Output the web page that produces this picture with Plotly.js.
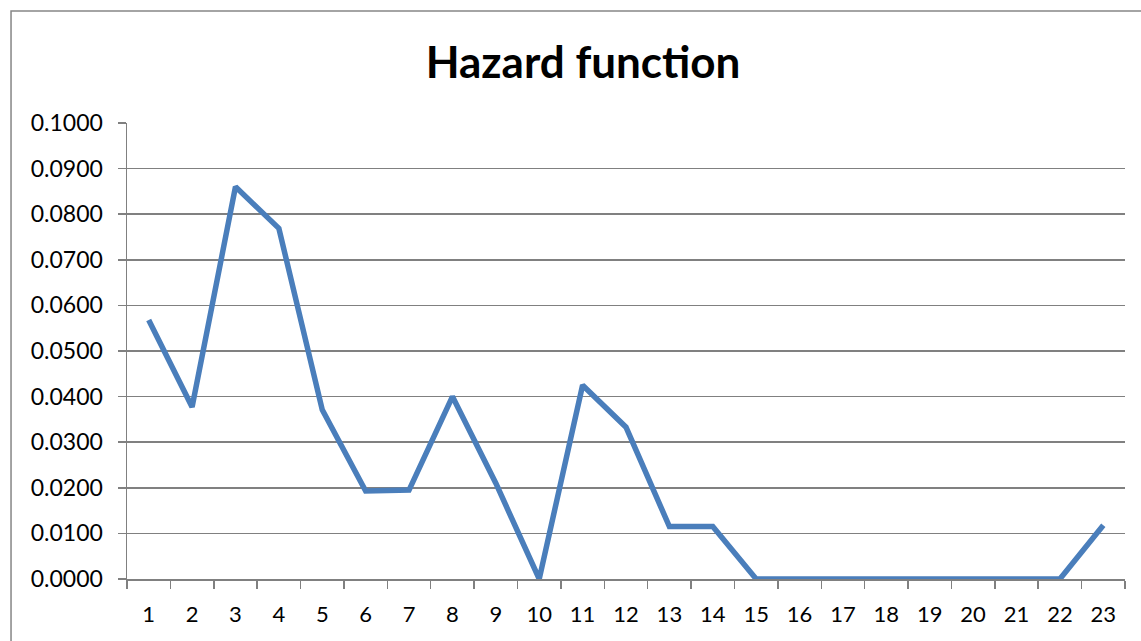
<!DOCTYPE html>
<html>
<head>
<meta charset="utf-8">
<script src="https://cdn.plot.ly/plotly-3.0.1.min.js"></script>
<style>html,body{margin:0;padding:0;background:#fff;}#chart{width:1141px;height:641px;}</style>
</head>
<body>
<div id="chart"></div>
<script>
const periods = ['1','2','3','4','5','6','7','8','9','10','11','12','13','14','15','16','17','18','19','20','21','22','23'];
const hazard = [0.0568,0.0377,0.0860,0.0769,0.0371,0.0193,0.0195,0.0400,0.0210,0.0000,0.0425,0.0333,0.0115,0.0115,0,0,0,0,0,0,0,0,0.0118];
const chartTitle = 'Hazard function';

const FONT = 'Lato, "Liberation Sans", sans-serif';
const trace = {
  x: periods, y: hazard, type: 'scatter', mode: 'lines',
  line: {color: '#4a7ebb', width: 5.5, shape: 'linear'},
  hoverinfo: 'x+y'
};
const layout = {
  width: 1141, height: 641,
  margin: {l: 127, r: 16, t: 123, b: 62},
  paper_bgcolor: '#ffffff', plot_bgcolor: '#ffffff',
  showlegend: false,
  title: {text: '<b>' + chartTitle + '</b>', font: {family: FONT, size: 44, color: '#000'}, x: 0.511, xanchor: 'center', y: 0.902, yanchor: 'middle'},
  xaxis: {
    type: 'category', range: [-0.5, 22.5], tickson: 'boundaries',
    showgrid: false, showline: true, linecolor: '#808080', linewidth: 1.5,
    ticks: 'outside', ticklen: 8, tickcolor: '#808080', tickwidth: 1.5,
    tickfont: {family: FONT, size: 22, color: '#000'}, ticklabelstandoff: 15,
    zeroline: false
  },
  yaxis: {
    range: [0, 0.1], dtick: 0.01, tick0: 0, tickformat: '.4f',
    showgrid: true, gridcolor: '#808080', gridwidth: 1.6,
    showline: true, linecolor: '#808080', linewidth: 1.5,
    ticks: 'outside', ticklen: 8, tickcolor: '#808080', tickwidth: 1.5,
    tickfont: {family: FONT, size: 23, color: '#000'}, ticklabelstandoff: 10,
    zeroline: false
  },
  shapes: [{
    type: 'rect', xref: 'paper', yref: 'paper',
    x0: -0.1162, x1: 1.2, y0: -0.3, y1: 1.2456,
    line: {color: '#868686', width: 1.5}, fillcolor: 'rgba(0,0,0,0)', layer: 'below'
  }]
};
Plotly.newPlot('chart', [trace], layout, {displayModeBar: false, staticPlot: true});
</script>
</body>
</html>
